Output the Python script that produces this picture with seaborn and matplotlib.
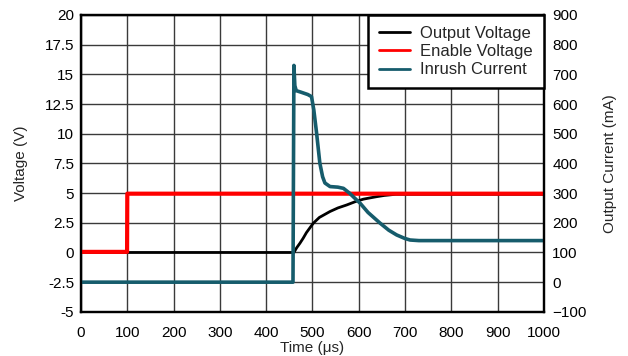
import matplotlib
matplotlib.use("Agg")
import matplotlib.pyplot as plt
from matplotlib.lines import Line2D
from matplotlib.ticker import MultipleLocator, FormatStrFormatter
import seaborn as sns

enable_time = [0, 99.5, 100, 1000]          # us
enable_volt = [0.05, 0.05, 4.95, 4.95]      # V

out_time = [0, 460, 466, 473, 480, 487, 495, 502, 515, 538, 555, 574, 592,
            610, 625, 639, 655, 680, 1000]
out_volt = [0, 0, 0.4, 0.78, 1.2, 1.67, 2.1, 2.47, 2.95, 3.45, 3.75, 4.0,
            4.27, 4.49, 4.6, 4.7, 4.8, 4.9, 4.9]

cur_time = [0, 458, 460, 462, 465, 475, 490, 498, 503, 509, 516, 522, 527,
            538, 555, 567, 580, 590, 603, 620, 646, 665, 682, 700, 711, 730, 1000]
cur_ma = [0, 0, 730, 662, 645, 640, 632, 625, 580, 502, 401, 355, 334,
          322, 320, 316, 300, 285, 266, 235, 199, 175, 159, 147, 142, 140, 140]

C_OUT = "#000000"
C_EN = "#ff0000"
C_CUR = "#165c6c"

sns.set_style("white")
plt.rcParams["font.family"] = ["Liberation Sans", "DejaVu Sans"]
plt.rcParams["font.size"] = 11

fig = plt.figure(figsize=(6.28, 3.56), dpi=100)
ax = fig.add_axes([0.129, 0.124, 0.737, 0.834])
ax2 = ax.twinx()

sns.lineplot(x=out_time, y=out_volt, ax=ax, color=C_OUT, linewidth=2.0,
             estimator=None, sort=False, zorder=3)
sns.lineplot(x=enable_time, y=enable_volt, ax=ax, color=C_EN, linewidth=3.0,
             estimator=None, sort=False, zorder=4)
sns.lineplot(x=cur_time, y=cur_ma, ax=ax2, color=C_CUR, linewidth=2.6,
             estimator=None, sort=False)

ax.set_xlim(0, 1000)
ax.set_ylim(-5, 20)
ax2.set_ylim(-100, 900)
ax.xaxis.set_major_locator(MultipleLocator(100))
ax.yaxis.set_major_locator(MultipleLocator(2.5))
ax.yaxis.set_major_formatter(FormatStrFormatter("%g"))
ax2.yaxis.set_major_locator(MultipleLocator(100))

ax.grid(True, color="#3a3a3a", linewidth=1.0)
ax.set_axisbelow(True)

ax.tick_params(axis="both", length=0, labelsize=11, colors="black")
ax.tick_params(axis="y", pad=5)
ax.tick_params(axis="x", pad=10)
ax2.tick_params(axis="y", length=0, labelsize=11, pad=6, colors="black")

for a in (ax, ax2):
    for sp in a.spines.values():
        sp.set_color("black")
        sp.set_linewidth(1.6)

ax.set_xlabel("Time (\u03bcs)", fontsize=11, labelpad=1)
ax.set_ylabel("Voltage (V)", fontsize=11, labelpad=12)
ax2.set_ylabel("Output Current (mA)", fontsize=11, labelpad=12)

handles = [
    Line2D([], [], color=C_OUT, linewidth=2),
    Line2D([], [], color=C_EN, linewidth=2),
    Line2D([], [], color=C_CUR, linewidth=2),
]
labels = ["Output Voltage", "Enable Voltage", "Inrush Current"]
leg = ax2.legend(handles, labels, loc="upper right", bbox_to_anchor=(1, 1),
                 borderaxespad=0, fancybox=False, framealpha=1,
                 edgecolor="black", fontsize=12, handlelength=1.9,
                 handletextpad=0.6, labelspacing=0.2, borderpad=0.65)
leg.get_frame().set_linewidth(1.8)

fig.savefig("out.png", dpi=100)
